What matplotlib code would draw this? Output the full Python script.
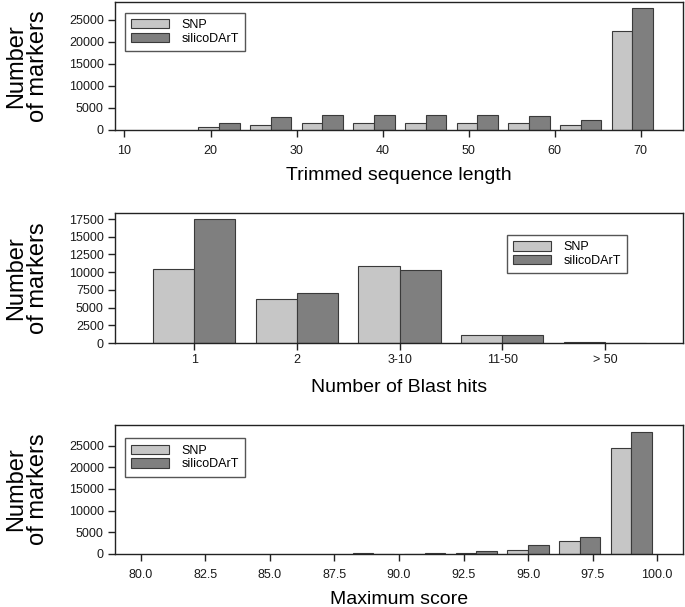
"""
Marker statistics: trimmed length, Blast hits and maximum score (SNP vs silicoDArT)
"""
import numpy as np
import matplotlib
matplotlib.use("Agg")
import matplotlib.pyplot as plt

plt.rcParams['font.family'] = ['Liberation Sans', 'DejaVu Sans']

# panel 1 - trimmed sequence length
len_bins = [21, 27, 33, 39, 45, 51, 57, 63, 69]
len_snp = [760, 1210, 1590, 1500, 1670, 1590, 1500, 1060, 22500]
len_sil = [1590, 2880, 3330, 3330, 3400, 3330, 3100, 2200, 27700]
len_ticks = [10, 20, 30, 40, 50, 60, 70]

# panel 2 - number of blast hits
hit_cats = ['1', '2', '3-10', '11-50', '> 50']
hit_snp = [10400, 6150, 10900, 1180, 190]
hit_sil = [17450, 7000, 10250, 1090, 60]

# panel 3 - maximum score
score_bins = [89, 91, 93, 95, 97, 99]
score_snp = [150, 30, 150, 920, 2920, 24400]
score_sil = [30, 230, 610, 2070, 3990, 28200]
score_ticks = [80.0, 82.5, 85.0, 87.5, 90.0, 92.5, 95.0, 97.5, 100.0]

SNP_COLOR = '#c6c6c6'
SIL_COLOR = '#7f7f7f'
EDGE = '#3a3a3a'

W, H = 685, 607
fig = plt.figure(figsize=(W / 100, H / 100), dpi=100)


def add_axes(top_px, bottom_px):
    left, right = 115, 683
    return fig.add_axes([left / W, 1 - bottom_px / H,
                         (right - left) / W, (bottom_px - top_px) / H])


def draw_pair(ax, x, snp, sil, width):
    x = np.asarray(x, dtype=float)
    ax.bar(x - width / 2, snp, width, color=SNP_COLOR, edgecolor=EDGE,
           linewidth=0.8, label='SNP', zorder=2)
    ax.bar(x + width / 2, sil, width, color=SIL_COLOR, edgecolor=EDGE,
           linewidth=0.8, label='silicoDArT', zorder=2)


def style(ax, xlabel, xpad, label_px):
    for s in ax.spines.values():
        s.set_linewidth(1.0)
        s.set_color('#222222')
    ax.tick_params(axis='both', direction='out', length=5, width=1.0,
                   labelsize=9, color='#222222', labelcolor='#1a1a1a')
    ax.tick_params(axis='x', pad=xpad)
    ax.tick_params(axis='y', pad=3)
    ax.set_xlabel(xlabel, fontsize=14)
    h = ax.get_position().height * H
    ax.xaxis.set_label_coords(0.5, -label_px / h)
    ax.xaxis.label.set_va('center')
    leg_kw = dict(fontsize=9, frameon=True, fancybox=False, framealpha=1,
                  edgecolor='#555555', handlelength=3.0, handleheight=0.75,
                  labelspacing=0.15, handletextpad=1.0, borderpad=0.5,
                  borderaxespad=0)
    return leg_kw


def ylabel(ax):
    pos = ax.get_position()
    fig.text(0.040, pos.y0 + pos.height / 2, 'Number\nof markers',
             rotation=90, ha='center', va='center', fontsize=17,
             linespacing=1.0, multialignment='center')


# panel 1
ax1 = add_axes(2, 130)
draw_pair(ax1, len_bins, len_snp, len_sil, 2.4)
ax1.set_xlim(8.9, 74.9)
ax1.set_ylim(0, 29000)
ax1.set_xticks(len_ticks)
ax1.set_yticks(np.arange(0, 25001, 5000))
kw = style(ax1, 'Trimmed sequence length', 6, 46)
ax1.legend(loc='upper left', bbox_to_anchor=(0.018, 0.917), **kw)
ylabel(ax1)

# panel 2
ax2 = add_axes(213, 343)
xpos = np.arange(len(hit_cats))
draw_pair(ax2, xpos, hit_snp, hit_sil, 0.4)
ax2.set_xlim(-0.77, 4.76)
ax2.set_ylim(0, 18350)
ax2.set_xticks(xpos)
ax2.set_xticklabels(hit_cats)
ax2.set_yticks(np.arange(0, 17501, 2500))
kw = style(ax2, 'Number of Blast hits', 3, 45)
ax2.legend(loc='upper left', bbox_to_anchor=(0.69, 0.83), **kw)
ylabel(ax2)

# panel 3
ax3 = add_axes(425, 554)
draw_pair(ax3, score_bins, score_snp, score_sil, 0.8)
ax3.set_xlim(79.0, 101.0)
ax3.set_ylim(0, 29750)
ax3.set_xticks(score_ticks)
ax3.set_xticklabels([f'{t:.1f}' for t in score_ticks])
ax3.set_yticks(np.arange(0, 25001, 5000))
kw = style(ax3, 'Maximum score', 6, 46)
ax3.legend(loc='upper left', bbox_to_anchor=(0.018, 0.897), **kw)
ylabel(ax3)

fig.savefig('out.png', dpi=100)
